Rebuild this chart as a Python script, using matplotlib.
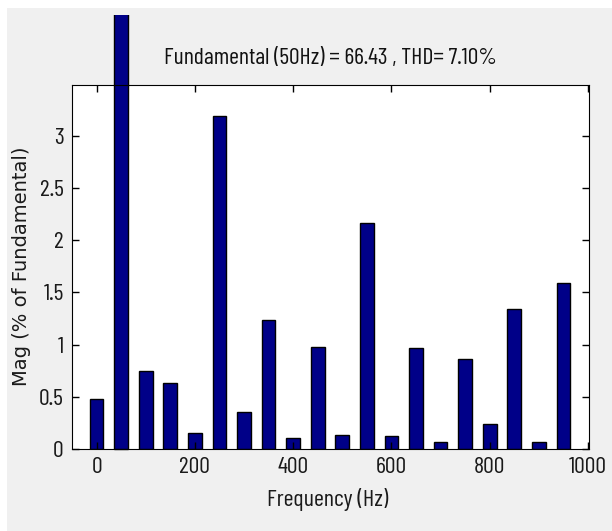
import numpy as np
import matplotlib
matplotlib.use("Agg")
import matplotlib.pyplot as plt
from matplotlib import font_manager
from matplotlib.patches import Rectangle
from matplotlib.transforms import Bbox

# === DATA ===
freqs = [0, 50, 100, 150, 200, 250, 300, 350, 400, 450,
         500, 550, 600, 650, 700, 750, 800, 850, 900, 950]
mags = [0.476, 100.0, 0.744, 0.628, 0.155, 3.188, 0.356, 1.236, 0.104, 0.981,
        0.136, 2.159, 0.120, 0.964, 0.071, 0.864, 0.243, 1.340, 0.071, 1.586]
x_ticks = [0, 200, 400, 600, 800, 1000]
y_ticks = [0, 0.5, 1, 1.5, 2, 2.5, 3]
y_tick_labels = ["0", "0.5", "1", "1.5", "2", "2.5", "3"]
title_text = "Fundamental (50Hz) = 66.43 , THD= 7.10%"
x_label = "Frequency (Hz)"
y_label = "Mag (% of Fundamental)"

W, H = 612, 531


def pick_font(families):
    for fam in families:
        try:
            path = font_manager.findfont(font_manager.FontProperties(family=fam),
                                         fallback_to_default=False)
            return font_manager.FontProperties(fname=path)
        except Exception:
            pass
    return font_manager.FontProperties(family="Liberation Sans")


# the screenshot is squeezed sideways, so the text looks very condensed
narrow = pick_font(["Barlow Condensed", "Fira Sans Extra Condensed", "Roboto Condensed",
                    "Archivo Narrow"])
wide = pick_font(["DejaVu Sans", "Liberation Sans"])

fig = plt.figure(figsize=(W / 100, H / 100), dpi=100, facecolor="white")
fig.patches.append(Rectangle((7 / W, 0), 1, 1 - 8 / H, transform=fig.transFigure,
                             facecolor="#f0f0f0", edgecolor="none", zorder=-10))

# axes box: x 72..589, y 85..449 (px from top)
ax = fig.add_axes([72 / W, 1 - 449 / H, (589 - 72) / W, (449 - 85) / H])
ax.set_facecolor("white")

bars = ax.bar(freqs, mags, width=28, color="#000088", edgecolor="black", linewidth=1.0)
# fundamental bar goes over the top of the axes, cut near the top of the figure
bars[1].set_clip_box(Bbox.from_extents(0, 0, W, H - 15))

ax.set_xlim(-50, 1002)
ax.set_ylim(0, 3.485)
ax.set_xticks(x_ticks)
ax.set_xticklabels([str(v) for v in x_ticks], fontproperties=narrow, color="#1a1a1a")
ax.set_yticks(y_ticks)
ax.set_yticklabels(y_tick_labels, fontproperties=narrow, color="#1a1a1a")
ax.tick_params(direction="in", length=5, width=1, top=True, right=True)

xl = ax.set_xlabel(x_label, fontproperties=narrow, color="#1a1a1a", va="center")
yl = ax.set_ylabel(y_label, fontproperties=wide, color="#1a1a1a", va="center")
tt = ax.set_title(title_text, fontproperties=narrow, color="#111111",
                  y=(449 - 58) / 364, va="center", pad=0)
ax.xaxis.set_label_coords((328 - 72) / 517, (449 - 499) / 364)
ax.yaxis.set_label_coords((22 - 72) / 517, (449 - 266) / 364)


def fit(text, target, axis="w"):
    text.set_fontsize(12)
    fig.canvas.draw()
    bb = text.get_window_extent()
    cur = bb.width if axis == "w" else bb.height
    text.set_fontsize(12 * target / cur)


fit(tt, 333)
fit(xl, 121)
fit(yl, 238, axis="h")

# tick label size: "1000" is about 38 px wide
ax.get_xticklabels()[-1].set_fontsize(12)
fig.canvas.draw()
tick_size = 12 * 38 / ax.get_xticklabels()[-1].get_window_extent().width
ax.tick_params(labelsize=tick_size, pad=6)

fig.savefig("out.png", dpi=100, facecolor=fig.get_facecolor())
